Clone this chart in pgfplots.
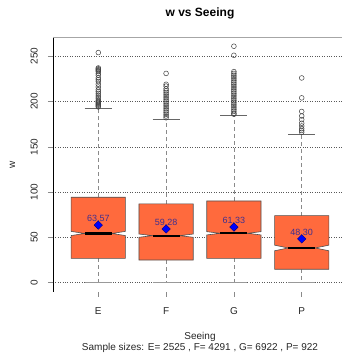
\documentclass[border=0pt]{standalone}
\usepackage{pgfplots}
\pgfplotsset{compat=1.18}
\usepackage{pgfplotstable}
\usepackage{fontspec}
\setmainfont{Liberation Sans}
\definecolor{boxc}{HTML}{FF6A3D}
\definecolor{boxd}{HTML}{505050}
\definecolor{meanlab}{HTML}{3F2F8F}
\definecolor{whisk}{HTML}{8A8A8A}

\pgfplotstableread{
x y label
1 63.57 63.57
2 59.28 59.28
3 61.33 61.33
4 48.30 48.30
}\means

\pgfplotstableread{
x y
1 254 
1 237
1 236
1 235
1 234
1 233
1 231
1 229
1 226
1 224
1 222
1 219
1 216
1 213
1 211
1 209
1 207
1 205
1 203
1 201
1 200
1 199
1 198
1 197
1 196
1 195
1 194
2 231
2 219
2 217
2 214
2 212
2 210
2 208
2 206
2 204
2 202
2 200
2 198
2 196
2 194
2 192
2 190
2 188
2 186
2 184
2 182
3 261
3 251
3 233
3 231
3 229
3 227
3 225
3 223
3 221
3 219
3 217
3 215
3 213
3 211
3 209
3 207
3 205
3 203
3 201
3 199
3 197
3 195
3 193
3 191
3 189
3 187
3 186
4 226
4 204
4 189
4 184
4 180
4 176
4 173
4 170
4 168
4 166
}\outliers

\begin{document}
\begin{tikzpicture}[x=1pt,y=1pt,font=\fontsize{10}{12}\selectfont]
\begin{axis}[
  at={(53pt,61pt)}, anchor=south west,
  scale only axis, width=294pt, height=255pt,
  xmin=0.332, xmax=4.668, ymin=-10.3, ymax=271.2,
  xtick={1,2,3,4}, xticklabels={E,F,G,P},
  ytick={0,50,100,150,200,250},
  tick align=outside, major tick length=5pt,
  xtick pos=bottom, ytick pos=left,
  tick style={whisk, line width=0.5pt},
  axis line style={draw=none},
  ymajorgrids, grid style={dotted, black!65, line width=0.5pt},
  /pgf/number format/assume math mode=true,
  yticklabel style={xshift=-10pt, rotate=90, anchor=south, inner sep=0pt, text=black!85},
  xticklabel style={anchor=north, inner sep=0pt, yshift=-10pt, text=black!85},
  title={\fontsize{12}{14}\selectfont\bfseries w vs Seeing},
  every axis title/.style={at={(axis description cs:0.5,1.0941)}, anchor=center, inner sep=0pt},
  xlabel={Seeing},
  every axis x label/.style={at={(axis description cs:0.5,-0.1755)}, anchor=center, inner sep=0pt, text=black!85},
  ylabel={w},
  every axis y label/.style={at={(axis description cs:-0.1378,0.5)}, anchor=center, inner sep=0pt, rotate=90, text=black!85},
]
% axis frame
\draw[black, line width=0.6pt] (rel axis cs:0,1) -- (rel axis cs:0,0) -- (rel axis cs:1,0);
\draw[black!35, line width=0.6pt] (rel axis cs:0,1) -- (rel axis cs:1,1);

% whiskers (dashed)
\addplot[whisk, dashed, dash pattern=on 4pt off 3pt, line width=0.6pt, forget plot] coordinates {(1,94.3) (1,192.8)};
\addplot[whisk, dashed, dash pattern=on 4pt off 3pt, line width=0.6pt, forget plot] coordinates {(1,26.8) (1,0)};
\addplot[whisk, dashed, dash pattern=on 4pt off 3pt, line width=0.6pt, forget plot] coordinates {(2,86.9) (2,180.5)};
\addplot[whisk, dashed, dash pattern=on 4pt off 3pt, line width=0.6pt, forget plot] coordinates {(2,25.0) (2,0)};
\addplot[whisk, dashed, dash pattern=on 4pt off 3pt, line width=0.6pt, forget plot] coordinates {(3,90.2) (3,184.3)};
\addplot[whisk, dashed, dash pattern=on 4pt off 3pt, line width=0.6pt, forget plot] coordinates {(3,26.9) (3,0)};
\addplot[whisk, dashed, dash pattern=on 4pt off 3pt, line width=0.6pt, forget plot] coordinates {(4,74.0) (4,164.0)};
\addplot[whisk, dashed, dash pattern=on 4pt off 3pt, line width=0.6pt, forget plot] coordinates {(4,14.8) (4,0)};

% caps
\addplot[black!60, line width=0.7pt, forget plot] coordinates {(0.8,192.8) (1.2,192.8)};
\addplot[black!60, line width=0.7pt, forget plot] coordinates {(1.8,180.5) (2.2,180.5)};
\addplot[black!60, line width=0.7pt, forget plot] coordinates {(2.8,184.3) (3.2,184.3)};
\addplot[black!60, line width=0.7pt, forget plot] coordinates {(3.8,164.0) (4.2,164.0)};
\addplot[black!40, line width=0.7pt, forget plot] coordinates {(0.8,0) (1.2,0)};
\addplot[black!40, line width=0.7pt, forget plot] coordinates {(1.8,0) (2.2,0)};
\addplot[black!40, line width=0.7pt, forget plot] coordinates {(2.8,0) (3.2,0)};
\addplot[black!40, line width=0.7pt, forget plot] coordinates {(3.8,0) (4.2,0)};

% notched boxes
\addplot[fill=boxc, draw=boxd, line width=0.6pt, forget plot] coordinates {
 (0.6,26.8) (1.4,26.8) (1.4,52.0) (1.2,54.3) (1.4,56.6) (1.4,94.3) (0.6,94.3) (0.6,56.6) (0.8,54.3) (0.6,52.0)} -- cycle;
\addplot[fill=boxc, draw=boxd, line width=0.6pt, forget plot] coordinates {
 (1.6,25.0) (2.4,25.0) (2.4,50.1) (2.2,51.9) (2.4,53.7) (2.4,86.9) (1.6,86.9) (1.6,53.7) (1.8,51.9) (1.6,50.1)} -- cycle;
\addplot[fill=boxc, draw=boxd, line width=0.6pt, forget plot] coordinates {
 (2.6,26.9) (3.4,26.9) (3.4,52.7) (3.2,54.5) (3.4,56.3) (3.4,90.2) (2.6,90.2) (2.6,56.3) (2.8,54.5) (2.6,52.7)} -- cycle;
\addplot[fill=boxc, draw=boxd, line width=0.6pt, forget plot] coordinates {
 (3.6,14.8) (4.4,14.8) (4.4,35.2) (4.2,38.3) (4.4,41.4) (4.4,74.0) (3.6,74.0) (3.6,41.4) (3.8,38.3) (3.6,35.2)} -- cycle;

% medians
\addplot[black, line width=2.2pt, forget plot] coordinates {(0.8,54.3) (1.2,54.3)};
\addplot[black, line width=2.2pt, forget plot] coordinates {(1.8,51.9) (2.2,51.9)};
\addplot[black, line width=2.2pt, forget plot] coordinates {(2.8,54.5) (3.2,54.5)};
\addplot[black, line width=2.2pt, forget plot] coordinates {(3.8,38.3) (4.2,38.3)};

% outliers
\addplot[only marks, mark=o, mark size=2.4pt, mark options={black!75, line width=0.5pt}, forget plot] table[x=x, y=y] {\outliers};

% means
\addplot[only marks, mark=square*, mark size=3pt, mark options={rotate=45, fill=blue, draw=blue!50!black, line width=0.4pt},
  nodes near coords, point meta=explicit symbolic,
  nodes near coords style={anchor=base, yshift=3.3pt, inner sep=0pt, text=meanlab, font=\fontsize{9}{10}\selectfont},
  forget plot] table[x=x, y=y, meta=label] {\means};
\end{axis}
\node[anchor=center, inner sep=0pt, text=black!85] at (200pt, 5.5pt) {Sample sizes: E= 2525 , F= 4291 , G= 6922 , P= 922};
\pgfresetboundingbox
\useasboundingbox (0,0) rectangle (342pt,353pt);
\end{tikzpicture}
\end{document}
